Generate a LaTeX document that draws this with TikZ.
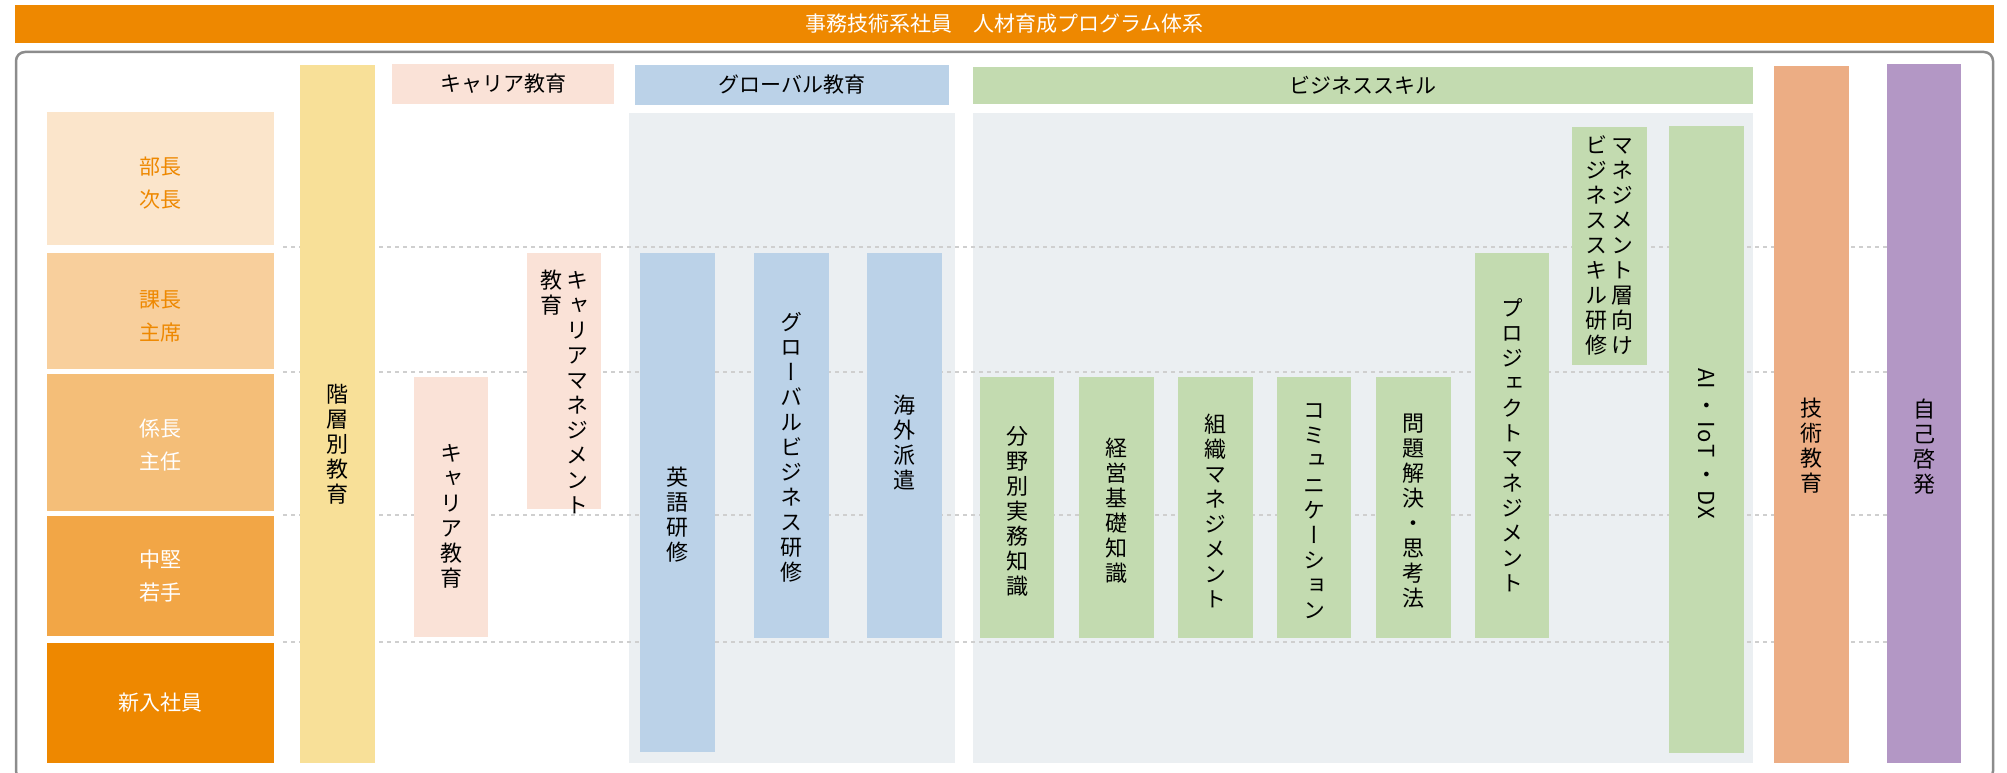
\documentclass[tikz,border=0pt]{standalone}
\usepackage{fontspec}
\setmainfont{Noto Sans CJK JP}
\newfontfamily\jpv[RawFeature=+vert]{Noto Sans CJK JP}
\definecolor{orng}{HTML}{EE8800}
\definecolor{rowA}{HTML}{FBE5CB}
\definecolor{rowB}{HTML}{F8CF9C}
\definecolor{rowC}{HTML}{F4BE78}
\definecolor{rowD}{HTML}{F2A646}
\definecolor{yell}{HTML}{F8E098}
\definecolor{pink}{HTML}{FAE2D7}
\definecolor{blu}{HTML}{BBD2E8}
\definecolor{grbg}{HTML}{EBEFF2}
\definecolor{grn}{HTML}{C3DBB0}
\definecolor{tech}{HTML}{ECAD84}
\definecolor{purp}{HTML}{B397C5}
\definecolor{framec}{HTML}{8C8C8C}
\definecolor{dotc}{HTML}{CFCFCF}
\newcommand\bxnode[6]{\node[bx, fill=#6, minimum width={(#4)-(#2)}, minimum height={(#5)-(#3)}, anchor=north west] (#1) at (#2,#3) {};}
\newcommand\vcol[1]{\parbox[t]{22pt}{\centering #1}}
\tikzset{
  bx/.style={rectangle, inner sep=0pt, outer sep=0pt, draw=none},
  vtxt/.style={font=\jpv\fontsize{22}{25}\selectfont, align=center, inner sep=0pt, text=black},
  vtwo/.style={font=\jpv\fontsize{22}{25}\selectfont, inner sep=0pt, text=black},
  htxt/.style={font=\fontsize{21}{25}\selectfont, inner sep=0pt, text=black},
  rowlab/.style={font=\fontsize{21}{33}\selectfont, align=center, inner sep=0pt},
  dotline/.style={draw=dotc, line width=2.5pt, dash pattern=on 4pt off 4pt},
}
\begin{document}
\begin{tikzpicture}[x=1pt,y=-1pt]
\useasboundingbox (0,0) rectangle (2007,773);
% frame
\draw[draw=framec, line width=2.5pt, rounded corners=9pt] (16,52) rectangle (1993,780);
% title
\bxnode{title}{15}{5}{1994}{43}{orng}
\node[htxt, text=white] (titletext) at (title.center) {事務技術系社員　人材育成プログラム体系};
% row labels
\bxnode{r1}{47}{112}{274}{245}{rowA}
\bxnode{r2}{47}{253}{274}{369}{rowB}
\bxnode{r3}{47}{374}{274}{511}{rowC}
\bxnode{r4}{47}{516}{274}{636}{rowD}
\bxnode{r5}{47}{643}{274}{763}{orng}
\node[rowlab, text=orng] (r1t) at (160.5,183) {部長\\次長};
\node[rowlab, text=orng] (r2t) at (160.5,316) {課長\\主席};
\node[rowlab, text=white] (r3t) at (160.5,445) {係長\\主任};
\node[rowlab, text=white] (r4t) at (160.5,576) {中堅\\若手};
\node[rowlab, text=white] (r5t) at (160.5,703) {新入社員};
% gray backgrounds
\bxnode{gbg}{629}{113}{955}{763}{grbg}
\bxnode{bbg}{973}{113}{1753}{763}{grbg}
% headers
\bxnode{hc}{392}{64}{614}{104}{pink}
\bxnode{hg}{635}{65}{949}{105}{blu}
\bxnode{hb}{973}{67}{1753}{104}{grn}
\node[htxt] (hct) at (hc.center) {キャリア教育};
\node[htxt] (hgt) at (hg.center) {グローバル教育};
\node[htxt] (hbt) at (hb.center) {ビジネススキル};
% dotted lines
\coordinate (d1a) at (283,247); \coordinate (d1b) at (1887,247);
\coordinate (d2a) at (283,372); \coordinate (d2b) at (1887,372);
\coordinate (d3a) at (283,515); \coordinate (d3b) at (1887,515);
\coordinate (d4a) at (283,642); \coordinate (d4b) at (1887,642);
\draw[dotline] (d1a) -- (d1b);
\draw[dotline] (d2a) -- (d2b);
\draw[dotline] (d3a) -- (d3b);
\draw[dotline] (d4a) -- (d4b);
% tall columns
\bxnode{kaiso}{300}{65}{375}{763}{yell}
\bxnode{gijutsu}{1774}{66}{1849}{763}{tech}
\bxnode{jiko}{1887}{64}{1961}{763}{purp}
% career
\bxnode{c1}{414}{377}{488}{637}{pink}
\bxnode{c2}{527}{253}{601}{509}{pink}
% global
\bxnode{g1}{640}{253}{715}{752}{blu}
\bxnode{g2}{754}{253}{829}{638}{blu}
\bxnode{g3}{867}{253}{942}{638}{blu}
% business
\bxnode{b1}{980}{377}{1054}{638}{grn}
\bxnode{b2}{1079}{377}{1154}{638}{grn}
\bxnode{b3}{1178}{377}{1253}{638}{grn}
\bxnode{b4}{1277}{377}{1351}{638}{grn}
\bxnode{b5}{1376}{377}{1451}{638}{grn}
\bxnode{b6}{1475}{253}{1549}{638}{grn}
\bxnode{b7}{1572}{127}{1647}{365}{grn}
\bxnode{b8}{1669}{126}{1744}{753}{grn}
% vertical texts
\node[vtxt] (kaisot) at (337.5,444) {階\\層\\別\\教\\育};
\node[vtxt] (c1t) at (451,516) {キ\\ャ\\リ\\ア\\教\\育};
\node[vtwo, anchor=north] (c2t) at (564,270) {\vcol{教\\育}\hspace{4pt}\vcol{キ\\ャ\\リ\\ア\\マ\\ネ\\ジ\\メ\\ン\\ト}};
\node[vtxt] (g1t) at (677.5,515) {英\\語\\研\\修};
\node[vtxt] (g2t) at (791.5,447) {グ\\ロ\\ー\\バ\\ル\\ビ\\ジ\\ネ\\ス\\研\\修};
\node[vtxt] (g3t) at (904.5,443) {海\\外\\派\\遣};
\node[vtxt] (b1t) at (1017,511) {分\\野\\別\\実\\務\\知\\識};
\node[vtxt] (b2t) at (1116.5,511) {経\\営\\基\\礎\\知\\識};
\node[vtxt] (b3t) at (1215.5,511) {組\\織\\マ\\ネ\\ジ\\メ\\ン\\ト};
\node[vtxt] (b4t) at (1314,511) {コ\\ミ\\ュ\\ニ\\ケ\\ー\\シ\\ョ\\ン};
\node[vtxt] (b5t) at (1413.5,511) {問\\題\\解\\決\\・\\思\\考\\法};
\node[vtxt] (b6t) at (1512,445) {プ\\ロ\\ジ\\ェ\\ク\\ト\\マ\\ネ\\ジ\\メ\\ン\\ト};
\node[vtwo] (b7t) at (1609.5,245) {\vcol{ビ\\ジ\\ネ\\ス\\ス\\キ\\ル\\研\\修}\hspace{4pt}\vcol{マ\\ネ\\ジ\\メ\\ン\\ト\\層\\向\\け}};
\node[inner sep=0pt, font=\fontsize{22}{25}\selectfont, text=black, rotate=-90] (b8t) at (1706.5,443.5) {A\kern1pt I\kern5pt・\kern5pt I\kern2pt o\kern2pt T\kern5pt・\kern5pt D\kern1pt X};
\node[vtxt] (gijutsut) at (1811.5,446) {技\\術\\教\\育};
\node[vtxt] (jikot) at (1924,447) {自\\己\\啓\\発};
\end{tikzpicture}
\end{document}
